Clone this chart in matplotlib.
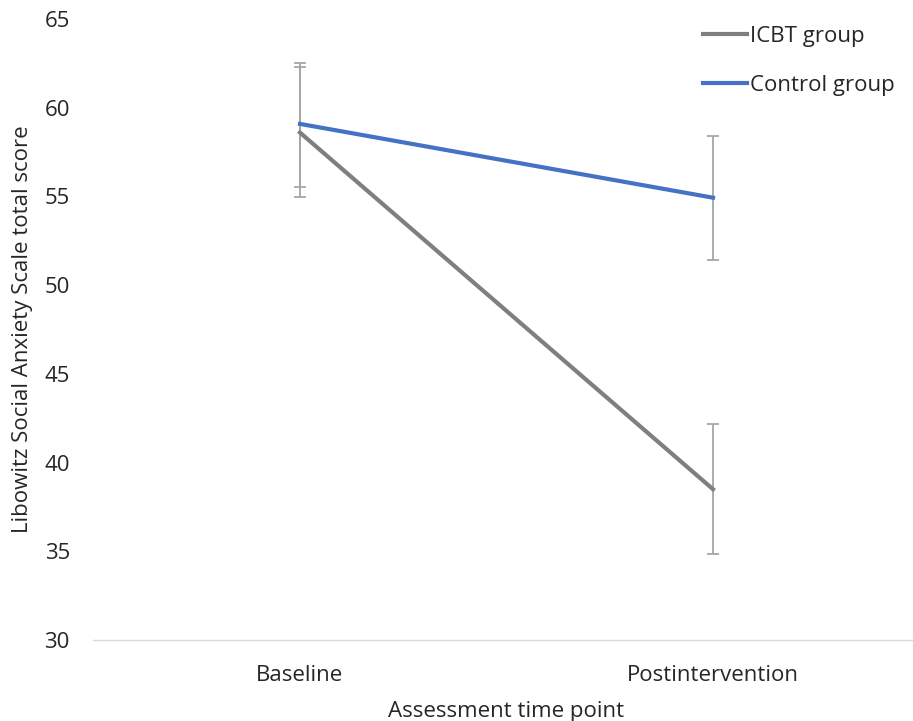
import matplotlib
matplotlib.use("Agg")
import matplotlib.pyplot as plt

categories = ["Baseline", "Postintervention"]
icbt_mean = [58.6, 38.5]
icbt_low = [54.95, 34.83]
icbt_high = [62.28, 42.16]
ctrl_mean = [59.09, 54.93]
ctrl_low = [55.55, 51.42]
ctrl_high = [62.51, 58.41]
yticks = [30, 35, 40, 45, 50, 55, 60, 65]

plt.rcParams['font.family'] = ['Open Sans', 'DejaVu Sans']

fig = plt.figure(figsize=(9.13, 7.21), dpi=100)
ax = fig.add_axes([0.1024, 0.1123, 0.9047, 0.8613])

x = list(range(len(categories)))
ebc = '#a6a6a6'
for means, lo, hi in [(icbt_mean, icbt_low, icbt_high), (ctrl_mean, ctrl_low, ctrl_high)]:
    yerr = [[m - l for m, l in zip(means, lo)], [h - m for m, h in zip(means, hi)]]
    ax.errorbar(x, means, yerr=yerr, fmt='none', ecolor=ebc, elinewidth=1.3,
                capsize=4, capthick=1.3, zorder=2)

l1, = ax.plot(x, icbt_mean, color='#7f7f7f', lw=3.0, label='ICBT group', zorder=3)
l2, = ax.plot(x, ctrl_mean, color='#4472c4', lw=3.0, label='Control group', zorder=4)

ax.set_xlim(-0.5, 1.5)
ax.set_ylim(30, 65)
ax.set_yticks(yticks)
ax.set_yticklabels([str(t) for t in yticks])
ax.set_xticks(x)
ax.set_xticklabels(categories)
for s in ['top', 'right', 'left']:
    ax.spines[s].set_visible(False)
ax.spines['bottom'].set_color('#d9d9d9')
ax.spines['bottom'].set_linewidth(1.0)
ax.tick_params(axis='both', length=0, labelsize=16, colors='#262626')
ax.tick_params(axis='y', pad=17)
ax.tick_params(axis='x', pad=18)

ax.set_xlabel('Assessment time point', fontsize=16, color='#262626', labelpad=11)
ax.set_ylabel('Libowitz Social Anxiety Scale total score', fontsize=16, color='#262626', labelpad=8)

leg = fig.legend(handles=[l1, l2], loc='upper left', bbox_to_anchor=(703 / 913, 1 - 26 / 721),
                 frameon=False, fontsize=16, handlelength=2.0, handletextpad=0.1,
                 labelspacing=1.25, borderpad=0, borderaxespad=0)
for t in leg.get_texts():
    t.set_color('#262626')

fig.savefig('out.png', dpi=100)
